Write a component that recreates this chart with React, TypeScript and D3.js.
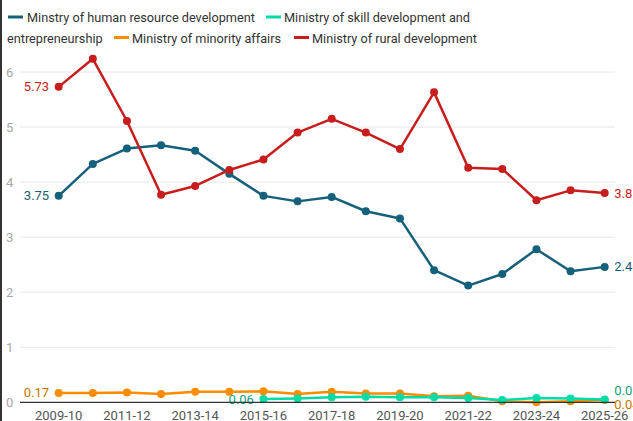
import React from "react";
import * as d3 from "d3";

const years = [
  "2009-10", "2010-11", "2011-12", "2012-13", "2013-14", "2014-15", "2015-16", "2016-17",
  "2017-18", "2018-19", "2019-20", "2020-21", "2021-22", "2022-23", "2023-24", "2024-25", "2025-26",
];
const xTickLabels = ["2009-10", "2011-12", "2013-14", "2015-16", "2017-18", "2019-20", "2021-22", "2023-24", "2025-26"];
const yTicks = [0, 1, 2, 3, 4, 5, 6];

const hrd = [3.75, 4.33, 4.61, 4.67, 4.57, 4.15, 3.75, 3.65, 3.73, 3.47, 3.34, 2.4, 2.12, 2.33, 2.78, 2.38, 2.46];
const skill: (number | null)[] = [null, null, null, null, null, null, 0.06, 0.07, 0.09, 0.1, 0.09, 0.09, 0.08, 0.04, 0.08, 0.07, 0.05];
const minority = [0.17, 0.17, 0.18, 0.15, 0.19, 0.19, 0.2, 0.15, 0.19, 0.16, 0.16, 0.11, 0.12, 0.02, 0.0, 0.02, 0.04];
const rural = [5.73, 6.24, 5.11, 3.77, 3.93, 4.22, 4.41, 4.9, 5.15, 4.9, 4.6, 5.63, 4.26, 4.24, 3.67, 3.85, 3.8];

const names = [
  "Minstry of human resource development",
  "Ministry of skill development and",
  "entrepreneurship",
  "Ministry of minority affairs",
  "Ministry of rural development",
];

type S = {
  key: string;
  values: (number | null)[];
  color: string;
  label: string;
  startLabel: string;
  endLabel: string;
  endDy: number;
};

const series: S[] = [
  { key: "minority", values: minority, color: "#fa8c00", label: "#c97400", startLabel: "0.17", endLabel: "0.04", endDy: 4 },
  { key: "skill", values: skill, color: "#00dca6", label: "#10a37f", startLabel: "0.06", endLabel: "0.05", endDy: -9 },
  { key: "hrd", values: hrd, color: "#15607a", label: "#15607a", startLabel: "3.75", endLabel: "2.46", endDy: 0 },
  { key: "rural", values: rural, color: "#c71e1d", label: "#c71e1d", startLabel: "5.73", endLabel: "3.8", endDy: 0 },
];

const W = 633;
const H = 421;
const FONT = "Roboto, 'Noto Sans', sans-serif";

export default function App() {
  const x = d3.scalePoint<string>().domain(years).range([58.7, 604.7]);
  const y = d3.scaleLinear().domain([0, 6]).range([402.3, 72]);
  const gridX0 = 20;
  const gridX1 = 615;

  const line = d3
    .line<number | null>()
    .defined((d) => d !== null)
    .x((_, i) => x(years[i]) as number)
    .y((d) => y(d as number));

  const legend = [
    { sw: 8, tx: 27, row: 0, color: "#15607a", text: names[0] },
    { sw: 266, tx: 284, row: 0, color: "#00dca6", text: names[1] },
    { sw: -1, tx: 7, row: 1, color: "", text: names[2] },
    { sw: 114, tx: 132, row: 1, color: "#fa8c00", text: names[3] },
    { sw: 294, tx: 312, row: 1, color: "#c71e1d", text: names[4] },
  ];

  return (
    <svg
      width={W}
      height={H}
      style={{ position: "absolute", left: 0, top: 0, background: "#fff" }}
      fontFamily={FONT}
    >
      <rect x={0} y={0} width={W} height={H} fill="#fff" />
      <line x1={1} x2={1} y1={0} y2={H} stroke="#333" strokeWidth={2} />

      {legend.map((l, i) => (
        <g key={i}>
          {l.sw >= 0 && (
            <line x1={l.sw} x2={l.sw + 15} y1={17 + l.row * 20.5} y2={17 + l.row * 20.5} stroke={l.color} strokeWidth={3} />
          )}
          <text x={l.tx} y={22 + l.row * 20.5} fontSize={12.7} fill="#333">
            {l.text}
          </text>
        </g>
      ))}

      {yTicks.map((t) => (
        <g key={t}>
          {t > 0 && <line x1={gridX0} x2={gridX1} y1={y(t)} y2={y(t)} stroke="#e6e6e6" strokeWidth={1} />}
          <text x={6} y={y(t)} dy="0.35em" fontSize={13} fill="#a8a8a8">
            {t}
          </text>
        </g>
      ))}

      {xTickLabels.map((t) => (
        <text key={t} x={x(t)} y={420} textAnchor="middle" fontSize={13} fill="#555">
          {t}
        </text>
      ))}

      {series.map((s) => {
        const firstIdx = s.values.findIndex((v) => v !== null);
        const lastIdx = s.values.length - 1;
        return (
          <g key={s.key}>
            <path d={line(s.values) || ""} fill="none" stroke={s.color} strokeWidth={2.5} strokeLinejoin="round" />
            {s.values.map((v, i) =>
              v === null ? null : <circle key={i} cx={x(years[i])} cy={y(v)} r={4} fill={s.color} />
            )}
            <text
              x={(x(years[firstIdx]) as number) - 9.5}
              y={y(s.values[firstIdx] as number)}
              dy="0.35em"
              textAnchor="end"
              fontSize={13}
              fill={s.label}
            >
              {s.startLabel}
            </text>
            <text
              x={(x(years[lastIdx]) as number) + 9.5}
              y={y(s.values[lastIdx] as number) + s.endDy}
              dy="0.35em"
              fontSize={13}
              fill={s.label}
            >
              {s.endLabel}
            </text>
          </g>
        );
      })}

      <line x1={gridX0} x2={gridX1} y1={y(0)} y2={y(0)} stroke="#333" strokeWidth={1.2} />
    </svg>
  );
}
